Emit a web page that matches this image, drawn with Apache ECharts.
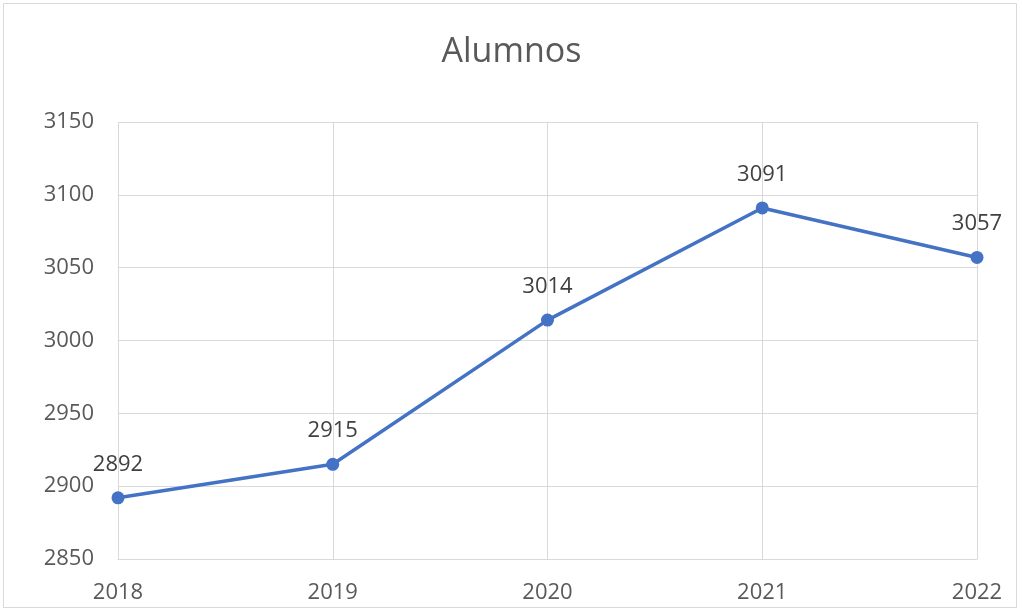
<!DOCTYPE html>
<html><head><meta charset="utf-8">
<script src="https://cdn.jsdelivr.net/npm/echarts@6/dist/echarts.min.js"></script>
<style>html,body{margin:0;padding:0;background:#fff}#c{width:1023px;height:614px}</style>
</head><body><div id="c"></div>
<script>
const categories = ['2018','2019','2020','2021','2022'];
const alumnos = [2892, 2915, 3014, 3091, 3057];
const yTicks = [2850, 2900, 2950, 3000, 3050, 3100, 3150];
const chart = echarts.init(document.getElementById('c'));
const font = 'Open Sans';
chart.setOption({
  animation: false,
  backgroundColor: '#fff',
  title: { text: 'Alumnos', left: 'center', top: 30, textStyle: { fontFamily: font, fontSize: 34, fontWeight: 'normal', color: '#595959' } },
  graphic: [{ type: 'rect', shape: { x: 3.5, y: 3.5, width: 1013, height: 604 }, style: { fill: 'none', stroke: '#d9d9d9', lineWidth: 1 }, silent: true }],
  grid: { left: 118, right: 46, top: 122, bottom: 55 },
  xAxis: {
    type: 'category', data: categories, boundaryGap: false,
    axisLine: { lineStyle: { color: '#d9d9d9' } }, axisTick: { show: false },
    axisLabel: { fontFamily: font, fontSize: 22, color: '#595959', margin: 23 },
    splitLine: { show: true, lineStyle: { color: '#d9d9d9', width: 1 } }
  },
  yAxis: {
    type: 'value', min: yTicks[0], max: yTicks[yTicks.length-1], interval: 50,
    axisLine: { show: false }, axisTick: { show: false },
    axisLabel: { fontFamily: font, fontSize: 22, color: '#595959', margin: 24, formatter: v => String(v) },
    splitLine: { lineStyle: { color: '#d9d9d9', width: 1 } }
  },
  series: [{
    type: 'line', data: alumnos, color: '#4472c4',
    lineStyle: { width: 3.5, color: '#4472c4' },
    symbol: 'circle', symbolSize: 13, itemStyle: { color: '#4472c4' },
    label: { show: true, position: 'top', distance: 16, fontFamily: font, fontSize: 22, color: '#404040' }
  }]
});
</script></body></html>
